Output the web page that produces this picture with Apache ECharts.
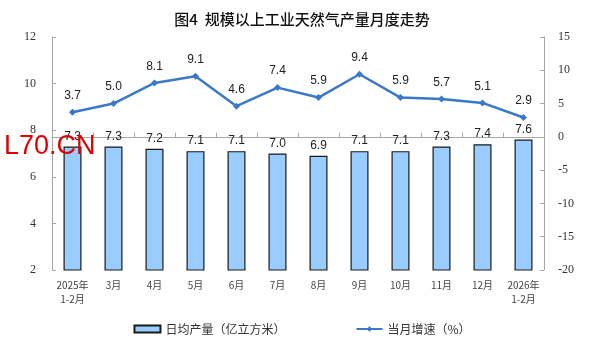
<!DOCTYPE html>
<html>
<head>
<meta charset="utf-8">
<script src="https://cdn.jsdelivr.net/npm/echarts@6/dist/echarts.min.js"></script>
<style>
  html, body { margin: 0; padding: 0; background: #fff; }
  #chart { width: 604px; height: 354px; }
</style>
</head>
<body>
<div id="chart"></div>
<script>
const months = ['2025年\n1-2月', '3月', '4月', '5月', '6月', '7月', '8月', '9月', '10月', '11月', '12月', '2026年\n1-2月']
const dailyOutput = [7.3, 7.3, 7.2, 7.1, 7.1, 7.0, 6.9, 7.1, 7.1, 7.3, 7.4, 7.6]
const growthRate = [3.7, 5.0, 8.1, 9.1, 4.6, 7.4, 5.9, 9.4, 5.9, 5.7, 5.1, 2.9]

const myChart = echarts.init(document.getElementById('chart'))

const axisGray = '#A6A6A6'
const serif = '"Liberation Serif", "DejaVu Serif", serif'
const cjk = '"Noto Sans CJK SC", sans-serif'

myChart.setOption({
  animation: false,
  title: {
    text: '图4  规模以上工业天然气产量月度走势',
    left: 'center',
    top: 7,
    textStyle: {
      fontFamily: cjk,
      fontSize: 15,
      fontWeight: 500,
      color: '#111'
    }
  },
  grid: {
    left: 52,
    right: 60,
    top: 37,
    bottom: 84
  },
  legend: {
    bottom: 14,
    itemGap: 70,
    itemWidth: 26,
    itemHeight: 7,
    textStyle: { fontFamily: cjk, fontSize: 12, color: '#333' },
    data: [
      { name: '日均产量（亿立方米）', icon: 'rect' },
      { name: '当月增速（%）' }
    ]
  },
  xAxis: {
    type: 'category',
    data: months,
    axisLine: { lineStyle: { color: axisGray } },
    axisTick: { show: true, inside: true, length: 4, lineStyle: { color: axisGray } },
    axisLabel: {
      interval: 0,
      fontFamily: cjk,
      fontSize: 10,
      color: '#444',
      lineHeight: 14,
      margin: 8
    }
  },
  yAxis: [
    {
      type: 'value',
      min: 2,
      max: 12,
      interval: 2,
      splitLine: { show: false },
      axisLine: { show: true, lineStyle: { color: axisGray } },
      axisTick: { show: true, inside: true, length: 4, lineStyle: { color: axisGray } },
      axisLabel: { fontFamily: serif, fontSize: 12, color: '#333', margin: 16 }
    },
    {
      type: 'value',
      min: -20,
      max: 15,
      interval: 5,
      splitLine: { show: false },
      axisLine: { show: true, lineStyle: { color: axisGray } },
      axisTick: { show: true, inside: true, length: 4, lineStyle: { color: axisGray } },
      axisLabel: { fontFamily: serif, fontSize: 12, color: '#333', margin: 14 }
    }
  ],
  series: [
    {
      name: '日均产量（亿立方米）',
      type: 'bar',
      data: dailyOutput,
      barWidth: 18,
      itemStyle: {
        color: '#99CCFF',
        borderColor: '#1A1A1A',
        borderWidth: 1.2
      },
      label: {
        show: true,
        position: 'top',
        distance: 4,
        formatter: p => p.value.toFixed(1),
        fontFamily: '"Liberation Sans", Arial, sans-serif',
        fontSize: 12,
        color: '#222'
      }
    },
    {
      name: '当月增速（%）',
      type: 'line',
      yAxisIndex: 1,
      data: growthRate,
      symbol: 'diamond',
      symbolSize: 7,
      lineStyle: { color: '#3A78C8', width: 2.5 },
      itemStyle: { color: '#3A78C8' },
      label: {
        show: true,
        position: 'top',
        distance: 7,
        formatter: p => p.value.toFixed(1),
        fontFamily: '"Liberation Sans", Arial, sans-serif',
        fontSize: 12,
        color: '#222'
      }
    }
  ],
  graphic: [
    {
      type: 'text',
      left: 4,
      top: 133,
      z: 100,
      style: {
        text: 'L70.CN',
        fill: '#E00000',
        fontSize: 27,
        fontFamily: '"Liberation Sans", Arial, sans-serif'
      }
    }
  ]
})
</script>
</body>
</html>
